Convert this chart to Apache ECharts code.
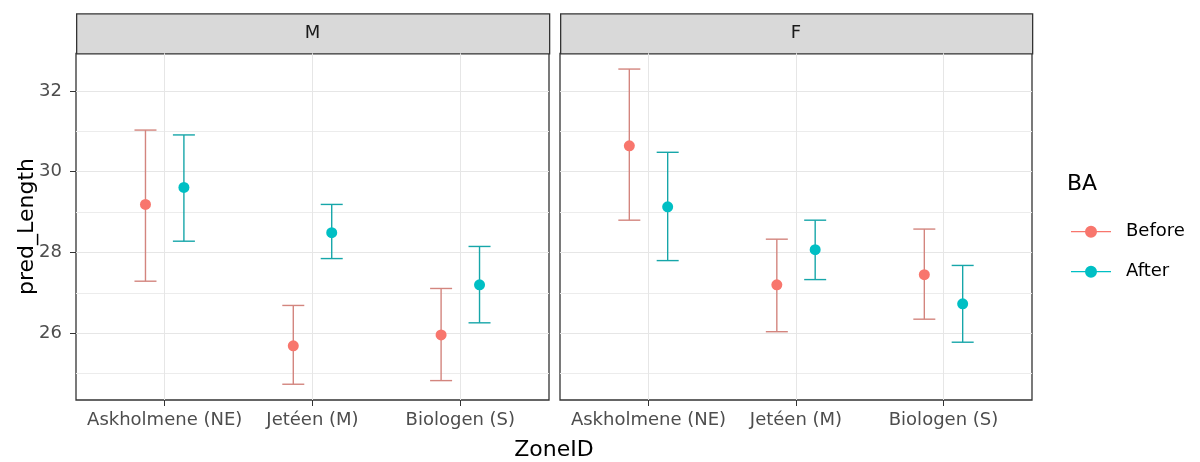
<!DOCTYPE html>
<html>
<head>
<meta charset="utf-8">
<script src="https://cdn.jsdelivr.net/npm/echarts@6/dist/echarts.min.js"></script>
<style>
  html, body { margin: 0; padding: 0; background: #fff; }
  #chart { width: 1200px; height: 462px; }
</style>
</head>
<body>
<div id="chart"></div>
<script>
var zones = ['Askholmene (NE)', 'Jetéen (M)', 'Biologen (S)'];
var panels = ['M', 'F'];
var yTicks = [26, 28, 30, 32];
var yMinorTicks = [25, 27, 29, 31];

// M panel
var mBefore = [29.19, 25.69, 25.96];
var mBeforeLo = [27.29, 24.74, 24.83];
var mBeforeHi = [31.03, 26.69, 27.11];
var mAfter = [29.61, 28.49, 27.20];
var mAfterLo = [28.28, 27.85, 26.26];
var mAfterHi = [30.91, 29.19, 28.15];

// F panel
var fBefore = [30.64, 27.20, 27.45];
var fBeforeLo = [28.80, 26.04, 26.35];
var fBeforeHi = [32.54, 28.33, 28.58];
var fAfter = [29.13, 28.07, 26.73];
var fAfterLo = [27.80, 27.33, 25.78];
var fAfterHi = [30.48, 28.80, 27.68];

var colBefore = '#F8766D';
var colAfter = '#00BFC4';
var lineBefore = '#d3857e';
var lineAfter = '#16a6a9';
var dodge = 0.13;
var font = 'DejaVu Sans';

var panelData = [
    {before: [mBefore, mBeforeLo, mBeforeHi], after: [mAfter, mAfterLo, mAfterHi]},
    {before: [fBefore, fBeforeLo, fBeforeHi], after: [fAfter, fAfterLo, fAfterHi]}
];

var gridLeft = [76, 560];
var gridWidth = [473, 472];
var gridTop = 53.3;
var gridHeight = 346.7;

function errorBar(color) {
    return function (params, api) {
        var x = api.value(0);
        var lo = api.coord([x, api.value(1)]);
        var hi = api.coord([x, api.value(2)]);
        var style = {stroke: color, lineWidth: 1.4};
        var w = 11;
        return {
            type: 'group',
            children: [
                {type: 'line', shape: {x1: lo[0], y1: lo[1], x2: hi[0], y2: hi[1]}, style: style},
                {type: 'line', shape: {x1: lo[0] - w, y1: lo[1], x2: lo[0] + w, y2: lo[1]}, style: style},
                {type: 'line', shape: {x1: hi[0] - w, y1: hi[1], x2: hi[0] + w, y2: hi[1]}, style: style}
            ]
        };
    };
}

var grids = [], xAxes = [], yAxes = [], series = [], graphics = [];

panels.forEach(function (name, p) {
    grids.push({
        left: gridLeft[p], top: gridTop, width: gridWidth[p], height: gridHeight,
        show: true, borderColor: '#333333', borderWidth: 1.3, backgroundColor: '#fff'
    });
    xAxes.push({
        type: 'value', gridIndex: p, min: 0.4, max: 3.6,
        axisLine: {show: false},
        axisTick: {show: true, length: 6, lineStyle: {color: '#333333'}, customValues: [1, 2, 3]},
        axisLabel: {
            customValues: [1, 2, 3], margin: 11,
            color: '#4D4D4D', fontFamily: font, fontSize: 18,
            formatter: function (v) { return zones[Math.round(v) - 1]; }
        },
        splitLine: {show: true, lineStyle: {color: '#E6E6E6', width: 1}}
    });
    // major y axis
    yAxes.push({
        type: 'value', gridIndex: p, min: 24.35, max: 32.93,
        axisLine: {show: false},
        axisTick: {show: p === 0, length: 6, lineStyle: {color: '#333333'}, customValues: yTicks},
        axisLabel: {
            show: p === 0, customValues: yTicks, margin: 14,
            color: '#4D4D4D', fontFamily: font, fontSize: 18
        },
        splitLine: {show: true, lineStyle: {color: '#E6E6E6', width: 1}}
    });
    // minor grid lines
    yAxes.push({
        type: 'value', gridIndex: p, min: 24.35, max: 32.93, position: 'left',
        axisLine: {show: false},
        axisTick: {show: false, customValues: yMinorTicks},
        axisLabel: {show: false, customValues: yMinorTicks},
        splitLine: {show: true, lineStyle: {color: '#ECECEC', width: 1}}
    });

    var d = panelData[p];
    var groups = [
        {name: 'Before', vals: d.before, off: -dodge, col: colBefore, line: lineBefore},
        {name: 'After', vals: d.after, off: dodge, col: colAfter, line: lineAfter}
    ];
    groups.forEach(function (g) {
        var bars = [], pts = [];
        for (var i = 0; i < zones.length; i++) {
            bars.push([i + 1 + g.off, g.vals[1][i], g.vals[2][i]]);
            pts.push([i + 1 + g.off, g.vals[0][i]]);
        }
        series.push({
            type: 'custom', name: g.name, xAxisIndex: p, yAxisIndex: p * 2,
            renderItem: errorBar(g.line), data: bars, z: 2,
            itemStyle: {color: g.col}, silent: true
        });
        series.push({
            type: 'scatter', name: g.name, xAxisIndex: p, yAxisIndex: p * 2,
            data: pts, symbolSize: 11, z: 3,
            itemStyle: {color: g.col, opacity: 1}
        });
    });

    // facet strip
    graphics.push({
        type: 'rect', left: gridLeft[p], top: 13.3,
        shape: {width: gridWidth[p], height: 40},
        style: {fill: '#D9D9D9', stroke: '#333333', lineWidth: 1.3}
    });
    graphics.push({
        type: 'text', x: gridLeft[p] + gridWidth[p] / 2, y: 33.3,
        style: {text: name, font: '18px "DejaVu Sans"', fill: '#1A1A1A', align: 'center', verticalAlign: 'middle'}
    });
});

graphics.push({
    type: 'text', x: 554, y: 450,
    style: {text: 'ZoneID', font: '22px "DejaVu Sans"', fill: '#000', align: 'center', verticalAlign: 'middle'}
});
graphics.push({
    type: 'text', x: 27, y: 226.5, rotation: Math.PI / 2,
    style: {text: 'pred_Length', font: '22px "DejaVu Sans"', fill: '#000', align: 'center', verticalAlign: 'middle'}
});
graphics.push({
    type: 'text', x: 1067, y: 184,
    style: {text: 'BA', font: '22px "DejaVu Sans"', fill: '#000', align: 'left', verticalAlign: 'middle'}
});

var option = {
    animation: false,
    backgroundColor: '#fff',
    grid: grids,
    xAxis: xAxes,
    yAxis: yAxes,
    series: series,
    graphic: graphics,
    legend: {
        data: ['Before', 'After'],
        orient: 'vertical',
        left: 1066, top: 216.7,
        itemWidth: 40, itemHeight: 12, itemGap: 20,
        icon: 'path://M0,5.4L40,5.4L40,6.6L0,6.6Z M14,6A6,6 0 1,1 26,6A6,6 0 1,1 14,6Z',
        textStyle: {fontFamily: font, fontSize: 18, color: '#000', lineHeight: 20, padding: [0, 0, 0, 10]},
        selectedMode: false
    }
};

var myChart = echarts.init(document.getElementById('chart'));
myChart.setOption(option);
</script>
</body>
</html>
